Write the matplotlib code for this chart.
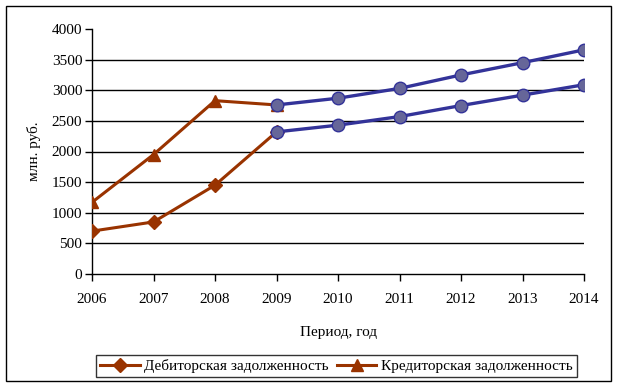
import numpy as np
import matplotlib
matplotlib.use("Agg")
import matplotlib.pyplot as plt
from matplotlib.patches import Rectangle

plt.rcParams['font.family'] = ['Liberation Serif', 'DejaVu Serif']

# actual values
years_fact = [2006, 2007, 2008, 2009]
debit_fact = [700, 850, 1450, 2320]
credit_fact = [1170, 1950, 2830, 2760]

# forecast values
years_prog = [2009, 2010, 2011, 2012, 2013, 2014]
debit_prog = [2320, 2430, 2570, 2750, 2920, 3090]
credit_prog = [2760, 2870, 3030, 3250, 3450, 3660]

yticks = [0, 500, 1000, 1500, 2000, 2500, 3000, 3500, 4000]
xticks = list(range(2006, 2015))

brown = '#993300'
blue = '#333399'
circ = '#666699'

fig = plt.figure(figsize=(6.18, 3.86), dpi=100)
ax = fig.add_axes([92/618, 1 - 274/386, (584 - 92)/618, (274 - 29)/386])

# grid (no line at top)
ax.hlines(yticks[1:-1], xticks[0], xticks[-1], colors='black', linewidth=1.0, zorder=1)

ax.plot(years_fact, debit_fact, color=brown, lw=2.2, marker='D', ms=7.5,
        mfc=brown, mec=brown, label='Дебиторская задолженность', zorder=3)
ax.plot(years_fact, credit_fact, color=brown, lw=2.2, marker='^', ms=9,
        mfc=brown, mec=brown, label='Кредиторская задолженность', zorder=3)
ax.plot(years_prog, debit_prog, color=blue, lw=2.4, marker='o', ms=9,
        mfc=circ, mec=blue, mew=1, zorder=4)
ax.plot(years_prog, credit_prog, color=blue, lw=2.4, marker='o', ms=9,
        mfc=circ, mec=blue, mew=1, zorder=4)

ax.set_xlim(2006, 2014)
ax.set_ylim(0, 4000)
ax.set_xticks(xticks)
ax.set_yticks(yticks)
ax.tick_params(direction='out', length=5, width=1, colors='black', labelsize=11)
ax.tick_params(axis='x', pad=9)
ax.tick_params(axis='y', pad=2)
ax.spines['top'].set_visible(False)
ax.spines['right'].set_visible(False)
for s in ['left', 'bottom']:
    ax.spines[s].set_linewidth(1.0)
    ax.spines[s].set_color('black')

ax.set_ylabel('млн. руб.', fontsize=11, labelpad=8)
ax.set_xlabel('Период, год', fontsize=11, labelpad=14)

leg = fig.legend(loc='center', bbox_to_anchor=((93 + 580) / 2 / 618, 1 - 366 / 386),
                 ncol=2, frameon=True, fancybox=False, edgecolor='black',
                 fontsize=11, handlelength=2.6, columnspacing=0.5, handletextpad=0.3,
                 borderpad=0.25, borderaxespad=0)
leg.get_frame().set_linewidth(1.0)

fig.patches.append(Rectangle((6/618, 5/386), 605/618, 375/386, transform=fig.transFigure,
                             fill=False, edgecolor='black', linewidth=1.0))

fig.savefig('out.png', dpi=100)
